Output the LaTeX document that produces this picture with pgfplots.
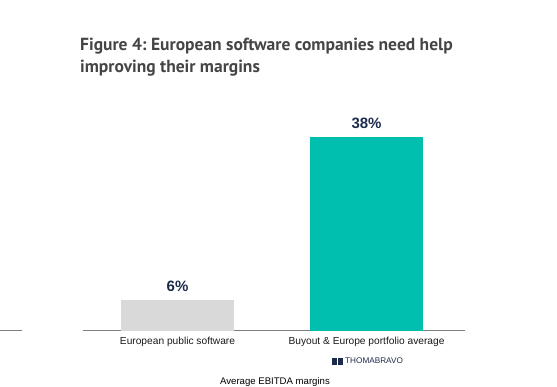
\documentclass[border=0pt]{standalone}
\usepackage{pgfplots}
\pgfplotsset{compat=1.18}
\usepackage{fontspec}
\setmainfont{Liberation Sans}
\newfontfamily\titlefont{PT Sans}
\frenchspacing
\definecolor{titlegray}{HTML}{454545}
\definecolor{barGray}{HTML}{D9D9D9}
\definecolor{barTeal}{HTML}{00BFAE}
\definecolor{navy}{HTML}{1C2B4B}
\definecolor{axisgray}{HTML}{7F7F7F}
\begin{document}
\begin{tikzpicture}[x=1pt,y=1pt]
\useasboundingbox (0,0) rectangle (557,386);
% title
\node[anchor=north west, inner sep=0pt, align=left, text=titlegray,
      font=\titlefont\fontsize{17.5}{22.5}\selectfont\bfseries] at (80,348.5)
  {Figure 4: European software companies need help\\improving their margins};
% stray axis segment at left
\draw[axisgray, line width=1.2pt] (0,55.5) -- (22,55.5);
\begin{axis}[
  at={(83pt,55.5pt)}, anchor=south west,
  scale only axis,
  width=382pt, height=229pt,
  xmin=-0.5, xmax=1.521,
  ymin=0, ymax=45,
  ybar, bar width=113pt, bar shift=0pt,
  axis x line*=bottom,
  axis y line=none,
  x axis line style={axisgray, line width=1.2pt, -},
  xtick={0,1},
  xticklabels={European public software, Buyout \& Europe portfolio average},
  xtick style={draw=none},
  xticklabel style={font=\fontsize{10.2}{11}\selectfont, text=black!90, anchor=base, yshift=-9.5pt},
  ytick=\empty,
  /pgf/number format/assume math mode=true,
  nodes near coords={\pgfmathprintnumber{\pgfplotspointmeta}\%},
  nodes near coords style={font=\fontsize{15}{15}\selectfont\bfseries, text=navy, anchor=base, yshift=8.5pt},
  clip=false,
]
\addplot[fill=barGray, draw=none] coordinates {(0,6)};
\addplot[fill=barTeal, draw=none] coordinates {(1,38)};
\end{axis}
% logo
\fill[navy] (332,21.5) rectangle (337,28.5);
\fill[navy] (338,21.5) rectangle (343,28.5);
\node[anchor=west, inner sep=0pt, text=navy, font=\fontsize{8.2}{9}\selectfont] at (345,25) {THOMABRAVO};
\node[anchor=base, inner sep=0pt, text=black, font=\fontsize{9.6}{10}\selectfont] at (275,1.5) {Average EBITDA margins};
\end{tikzpicture}
\end{document}
